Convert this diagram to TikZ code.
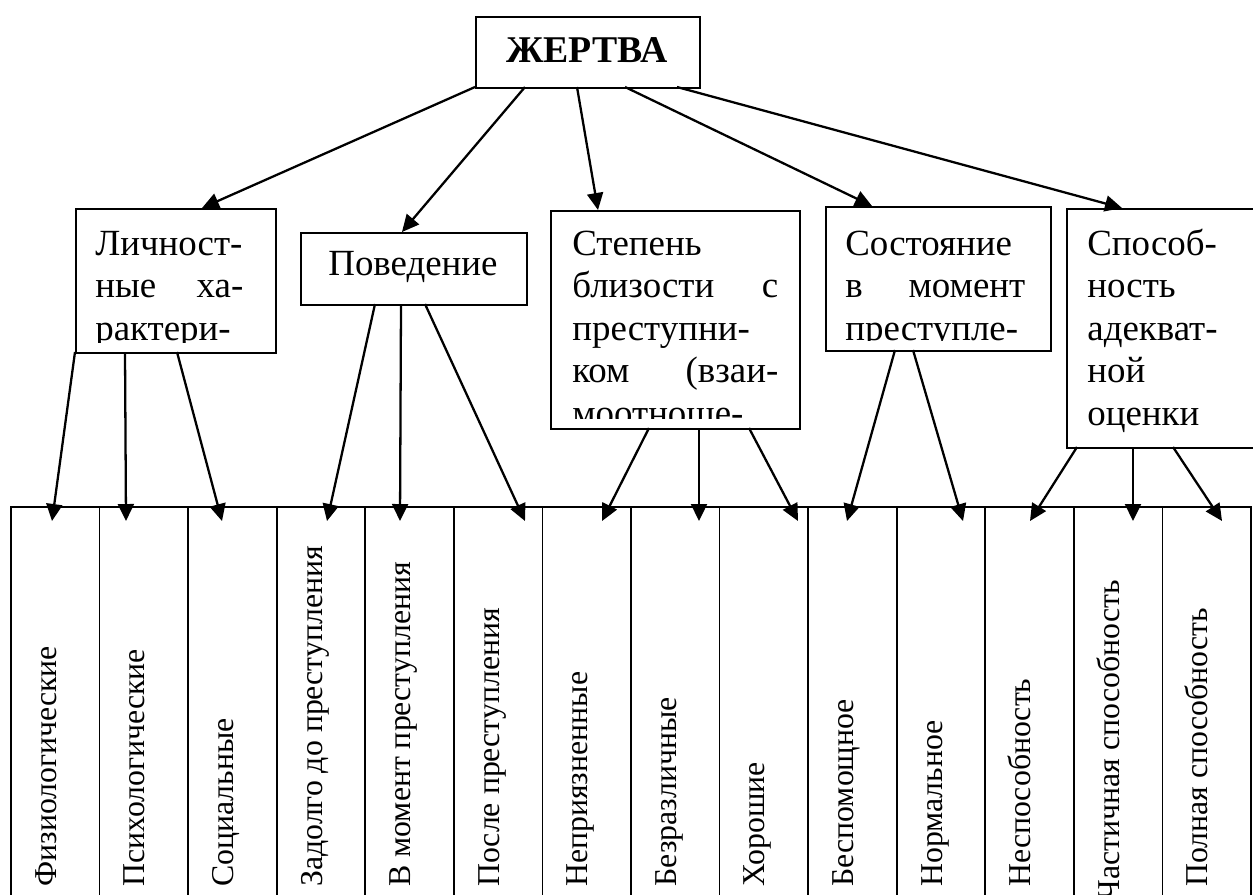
\documentclass[tikz,border=0pt]{standalone}
\usepackage{fontspec}
\setmainfont{Liberation Serif}
\usetikzlibrary{arrows.meta}
\begin{document}
\begin{tikzpicture}[x=0.02cm,y=-0.02cm,
  box/.style={draw,line width=1.3pt,inner sep=0pt,anchor=north west},
  arr/.style={line width=1.3pt,-{Triangle[length=0.34cm,width=0.32cm]}},
  boxtxt/.style={anchor=base west,inner sep=0pt,font=\fontsize{21}{24}\selectfont},
  coltxt/.style={rotate=90,anchor=base west,inner sep=0pt,font=\fontsize{18.1}{21}\selectfont},
  tbl/.style={line width=0.9pt}]
\clip (0,0) rectangle (1253,894);
% top box
\node[box,minimum width=4.48cm,minimum height=1.42cm] (zh) at (475,16) {};
\node[anchor=base,inner sep=0pt,font=\fontsize{21.5}{24}\selectfont\bfseries] (zht) at (587,62) {ЖЕРТВА};
% second level boxes
\node[box,minimum width=4cm,minimum height=2.88cm] (lich) at (75,208) {};
\node[box,minimum width=4.52cm,minimum height=1.44cm] (pov) at (300,232) {};
\node[box,minimum width=4.98cm,minimum height=4.36cm] (step) at (550,210) {};
\node[box,minimum width=4.5cm,minimum height=2.88cm] (sost) at (825,206) {};
\node[box,minimum width=4.4cm,minimum height=4.78cm] (spos) at (1066,208) {};
% texts of boxes
\begin{scope}
\clip (75,208) rectangle (275,342);
\node[boxtxt] (lich1) at (95,255) {Личност-};
\node[boxtxt] (lich2) at (95,297.5) {\makebox[2.96cm][s]{ные ха-}};
\node[boxtxt] (lich3) at (95,340) {рактери-};
\end{scope}
\node[anchor=base,inner sep=0pt,font=\fontsize{21}{24}\selectfont] (povt) at (413,275) {Поведение};
\begin{scope}
\clip (550,210) rectangle (799,418);
\node[boxtxt] (step1) at (572,255) {Степень};
\node[boxtxt] (step2) at (572,297.5) {\makebox[4.12cm][s]{близости с}};
\node[boxtxt] (step3) at (572,340) {преступни-};
\node[boxtxt] (step4) at (572,382.5) {\makebox[4.12cm][s]{ком (взаи-}};
\node[boxtxt] (step5) at (572,425) {моотноше-};
\end{scope}
\begin{scope}
\clip (825,206) rectangle (1050,340);
\node[boxtxt] (sost1) at (845,255) {Состояние};
\node[boxtxt] (sost2) at (845,297.5) {\makebox[3.6cm][s]{в момент}};
\node[boxtxt] (sost3) at (845,340) {преступле-};
\end{scope}
\begin{scope}
\clip (1066,208) rectangle (1300,437);
\node[boxtxt] (spos1) at (1087,255) {Способ-};
\node[boxtxt] (spos2) at (1087,297.5) {ность};
\node[boxtxt] (spos3) at (1087,340) {адекват-};
\node[boxtxt] (spos4) at (1087,382.5) {ной};
\node[boxtxt] (spos5) at (1087,425) {оценки};
\end{scope}
% table
\draw[tbl] (11,900) -- (11,507) -- (1251,507) -- (1251,900);
\foreach \k in {1,...,13} \draw[tbl] ({11+88.57*\k},507) -- ({11+88.57*\k},900);
\foreach \t [count=\i] in {Физиологические,Психологические,Социальные,Задолго до преступления,В момент преступления,После преступления,Неприязненные,Безразличные,Хорошие,Беспомощное,Нормальное,Неспособность}
  \node[coltxt] (c\i) at ({11+88.57*(\i-0.5)+1},887) {\t};
\node[coltxt,anchor=base east] (c13) at ({11+88.57*12.5+1},580) {Частичная способность};
\node[coltxt] (c14) at ({11+88.57*13.5+1},887) {Полная способность};
% arrows from top box
\coordinate (z1) at (475,87); \coordinate (z2) at (525,87); \coordinate (z3) at (577,87);
\coordinate (z4) at (625,87); \coordinate (z5) at (677,87);
\coordinate (lichT) at (202,208); \coordinate (povT) at (402,232); \coordinate (stepT) at (598,210);
\coordinate (sostT) at (872,206); \coordinate (sposT) at (1122,208);
\draw[arr] (z1) -- (lichT);
\draw[arr] (z2) -- (povT);
\draw[arr] (z3) -- (stepT);
\draw[arr] (z4) -- (sostT);
\draw[arr] (z5) -- (sposT);
% arrow start points on lower edges
\coordinate (l1) at (75,352); \coordinate (l2) at (125,352); \coordinate (l3) at (177,352);
\coordinate (p1) at (375,304); \coordinate (p2) at (401,304); \coordinate (p3) at (425,304);
\coordinate (s1) at (649,428); \coordinate (s2) at (699,428); \coordinate (s3) at (749,428);
\coordinate (q1) at (895,350); \coordinate (q2) at (913,350);
\coordinate (r1) at (1077,447); \coordinate (r2) at (1133,447); \coordinate (r3) at (1173,447);
% arrow tips in the table
\coordinate (t1) at (52,521); \coordinate (t2) at (126,521); \coordinate (t3) at (222,521);
\coordinate (t4) at (327,521); \coordinate (t5) at (400,521); \coordinate (t6) at (525,521);
\coordinate (t7) at (602,521); \coordinate (t8) at (699,521); \coordinate (t9) at (798,521);
\coordinate (t10) at (847,521); \coordinate (t11) at (963,521);
\coordinate (t12) at (1030,521); \coordinate (t13) at (1133,521); \coordinate (t14) at (1222,521);
\draw[arr] (l1) -- (t1); \draw[arr] (l2) -- (t2); \draw[arr] (l3) -- (t3);
\draw[arr] (p1) -- (t4); \draw[arr] (p2) -- (t5); \draw[arr] (p3) -- (t6);
\draw[arr] (s1) -- (t7); \draw[arr] (s2) -- (t8); \draw[arr] (s3) -- (t9);
\draw[arr] (q1) -- (t10); \draw[arr] (q2) -- (t11);
\draw[arr] (r1) -- (t12); \draw[arr] (r2) -- (t13); \draw[arr] (r3) -- (t14);
\end{tikzpicture}
\end{document}
